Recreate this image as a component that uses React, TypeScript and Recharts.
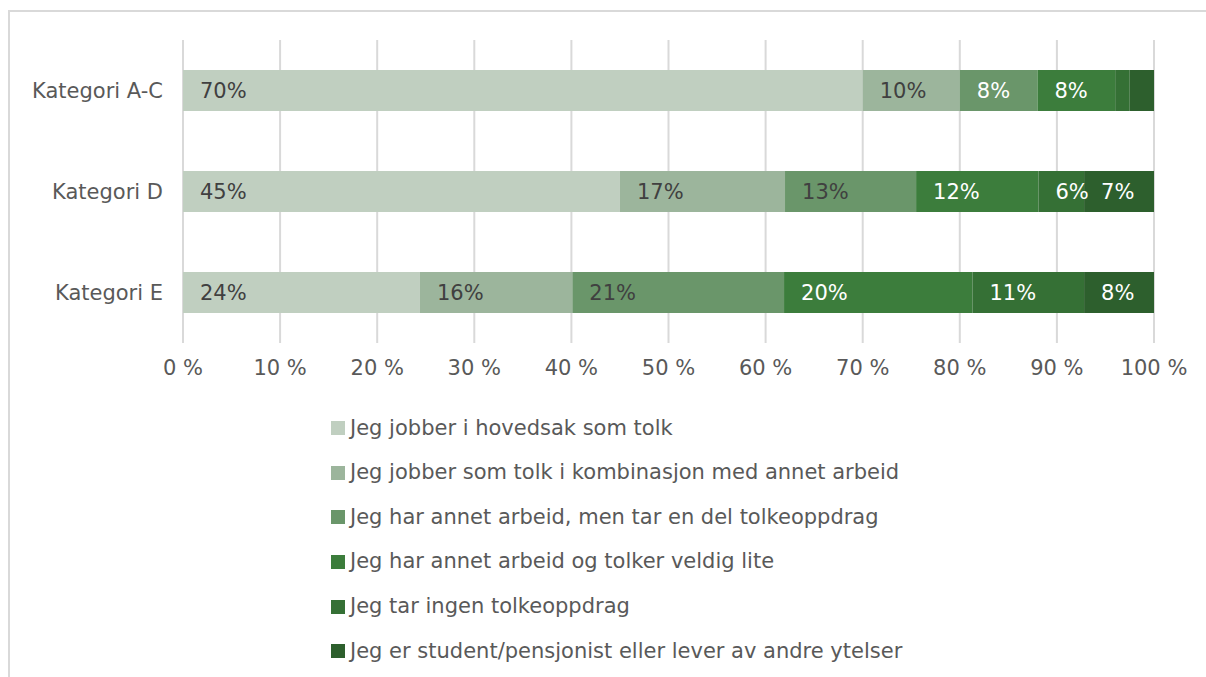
import React from 'react';
import { BarChart, Bar, XAxis, YAxis, CartesianGrid, LabelList, Legend } from 'recharts';

const categories = ['Kategori A-C', 'Kategori D', 'Kategori E'];

const seriesNames = [
  'Jeg jobber i hovedsak som tolk',
  'Jeg jobber som tolk i kombinasjon med annet arbeid',
  'Jeg har annet arbeid, men tar en del tolkeoppdrag',
  'Jeg har annet arbeid og tolker veldig lite',
  'Jeg tar ingen tolkeoppdrag',
  'Jeg er student/pensjonist eller lever av andre ytelser',
];

const hovedsak = [70, 45, 24.4];
const kombinasjon = [10, 17, 15.7];
const delOppdrag = [8, 13.5, 21.8];
const veldigLite = [8, 12.6, 19.4];
const ingenOppdrag = [1.5, 4.7, 11.5];
const student = [2.5, 7.2, 7.2];

const hovedsakLabels = ['70%', '45%', '24%'];
const kombinasjonLabels = ['10%', '17%', '16%'];
const delOppdragLabels = ['8%', '13%', '21%'];
const veldigLiteLabels = ['8%', '12%', '20%'];
const ingenOppdragLabels = ['', '6%', '11%'];
const studentLabels = ['', '7%', '8%'];

const xTicks = [0, 10, 20, 30, 40, 50, 60, 70, 80, 90, 100];

const colors = ['#C0CFC0', '#9CB59C', '#6A966A', '#3C7D3C', '#357035', '#2D5F2D'];
const DARK = '#404040';
const WHITE = '#FFFFFF';
const labelColors = [
  [DARK, DARK, DARK],
  [DARK, DARK, DARK],
  [WHITE, DARK, DARK],
  [WHITE, WHITE, WHITE],
  [WHITE, WHITE, WHITE],
  [WHITE, WHITE, WHITE],
];

const seriesValues = [hovedsak, kombinasjon, delOppdrag, veldigLite, ingenOppdrag, student];
const seriesLabels = [hovedsakLabels, kombinasjonLabels, delOppdragLabels, veldigLiteLabels, ingenOppdragLabels, studentLabels];
const keys = ['s1', 's2', 's3', 's4', 's5', 's6'];

const data = categories.map((name, i) => {
  const row: Record<string, any> = { name };
  keys.forEach((k, s) => {
    row[k] = seriesValues[s][i];
  });
  return row;
});

const FONT = '"DejaVu Sans", Verdana, sans-serif';
const TEXT = '#595959';

const makeLabel = (texts: string[], fills: string[]) => (props: any) => {
  const { x, y, height, index } = props;
  const t = texts[index];
  if (!t) return null;
  return (
    <text
      x={Number(x) + 17}
      y={Number(y) + Number(height) / 2}
      dy="0.36em"
      fill={fills[index]}
      fontSize={21}
      fontFamily={FONT}
      textAnchor="start"
    >
      {t}
    </text>
  );
};

const LegendContent = () => (
  <div style={{ fontFamily: FONT }}>
    {seriesNames.map((n, i) => (
      <div key={n} style={{ height: 44.65, display: 'flex', alignItems: 'center' }}>
        <div style={{ width: 14, height: 14, background: colors[i], marginRight: 5, flexShrink: 0 }} />
        <span style={{ fontSize: 21, color: TEXT, lineHeight: 1, whiteSpace: 'nowrap' }}>{n}</span>
      </div>
    ))}
  </div>
);

export default function App() {
  return (
    <div style={{ position: 'fixed', left: 0, top: 0, width: 1206, height: 677, overflow: 'hidden', background: '#fff' }}>
      <div
        style={{
          position: 'absolute',
          left: 8,
          top: 10,
          width: 1300,
          height: 800,
          border: '2px solid #D9D9D9',
          boxSizing: 'border-box',
        }}
      />
      <div style={{ position: 'absolute', left: 0, top: 0 }}>
        <BarChart
          width={1206}
          height={677}
          data={data}
          layout="vertical"
          margin={{ top: 40, right: 52, left: 0, bottom: 304 }}
        >
          <CartesianGrid horizontal={false} vertical stroke="#D9D9D9" strokeWidth={2} />
          <XAxis
            type="number"
            domain={[0, 100]}
            ticks={xTicks}
            tickFormatter={(v: number) => `${v} %`}
            axisLine={false}
            tickLine={false}
            tickSize={0}
            tickMargin={17}
            interval={0}
            tick={{ fill: TEXT, fontSize: 21, fontFamily: FONT }}
          />
          <YAxis
            type="category"
            dataKey="name"
            width={183}
            axisLine={false}
            tickLine={false}
            tickSize={0}
            tickMargin={20}
            tick={{ fill: TEXT, fontSize: 21, fontFamily: FONT }}
          />
          <Legend
            layout="vertical"
            align="center"
            verticalAlign="middle"
            content={() => <LegendContent />}
            wrapperStyle={{ left: 331, top: 405.7, width: 700, height: 270 }}
          />
          {keys.map((k, s) => (
            <Bar
              key={k}
              dataKey={k}
              name={seriesNames[s]}
              stackId="a"
              fill={colors[s]}
              barSize={41}
              isAnimationActive={false}
            >
              <LabelList dataKey={k} content={makeLabel(seriesLabels[s], labelColors[s])} />
            </Bar>
          ))}
        </BarChart>
      </div>
    </div>
  );
}
